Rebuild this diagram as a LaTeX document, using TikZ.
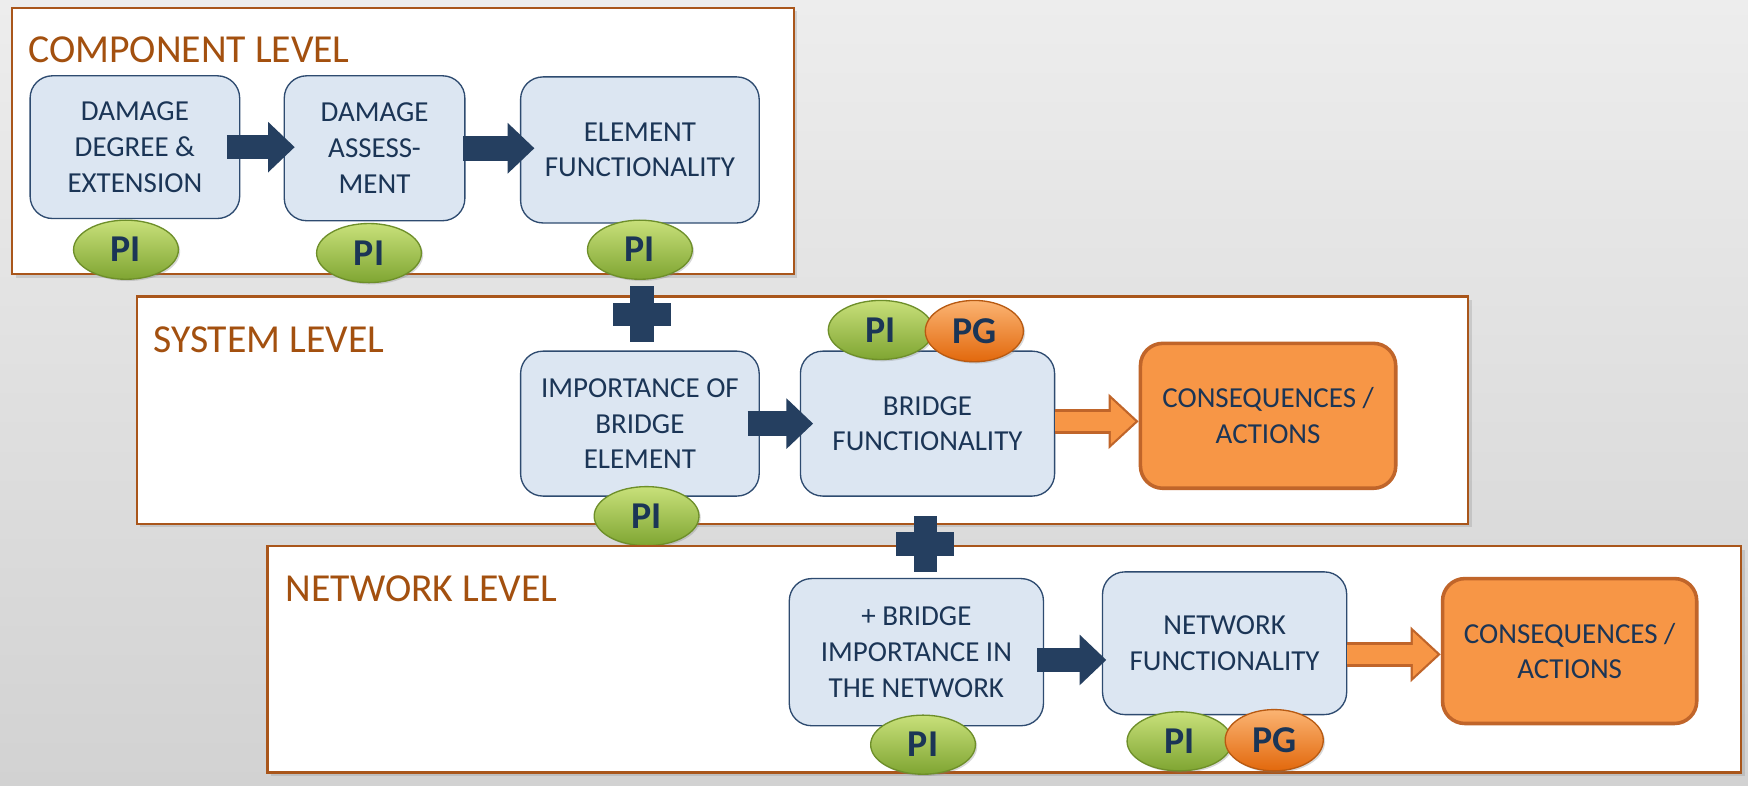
\documentclass[tikz,border=0pt]{standalone}
\usepackage{fontspec}
\setmainfont{Carlito}
\usepackage{tikz}
\usetikzlibrary{shapes.geometric,arrows.meta,shadows}

\definecolor{bgtop}{HTML}{EDEDED}
\definecolor{bgbot}{HTML}{D2D2D2}
\definecolor{framebrown}{HTML}{A9561B}
\definecolor{titlebrown}{HTML}{A3500F}
\definecolor{boxblue}{HTML}{DCE6F2}
\definecolor{boxline}{HTML}{2E4B70}
\definecolor{textnavy}{HTML}{1B3556}
\definecolor{arrownavy}{HTML}{253F60}
\definecolor{outorange}{HTML}{F79646}
\definecolor{outline}{HTML}{C0652A}
\definecolor{pitop}{HTML}{C8E07A}
\definecolor{pibot}{HTML}{7FA532}
\definecolor{piline}{HTML}{6E8F2A}
\definecolor{pgtop}{HTML}{FBB473}
\definecolor{pgbot}{HTML}{E2680C}
\definecolor{pgline}{HTML}{B85A12}

\begin{document}
\begin{tikzpicture}[x=0.5pt,y=-0.5pt,
  levelframe/.style={draw=framebrown, line width=1pt, fill=white,
    drop shadow={shadow xshift=1.5pt, shadow yshift=-1.5pt, opacity=0.25}},
  leveltitle/.style={anchor=base west, inner sep=0pt, text=titlebrown,
    font=\fontsize{17.8}{20}\selectfont},
  stepbox/.style={draw=boxline, fill=boxblue, line width=0.6pt,
    rounded corners=10pt, align=center, inner sep=0pt, text=textnavy,
    font=\fontsize{13}{16}\selectfont},
  outbox/.style={stepbox, draw=outline, fill=outorange, line width=1.6pt},
  badge/.style={ellipse, minimum width=47pt, minimum height=26.5pt, inner sep=0pt,
    line width=0.6pt, text=textnavy, font=\bfseries\fontsize{17}{17}\selectfont,
    drop shadow={shadow xshift=0.8pt, shadow yshift=-0.8pt, opacity=0.3}},
  pibadge/.style={badge, draw=piline, top color=pitop, bottom color=pibot},
  pgbadge/.style={badge, minimum width=44pt, minimum height=27.5pt,
    draw=pgline, top color=pgtop, bottom color=pgbot},
  flowarrow/.style={draw=arrownavy, line width=11pt,
    -{Triangle[length=12pt,width=22pt]}},
  outarrow/.style={draw=outline, line width=11pt,
    -{Triangle[length=13.5pt,width=24pt]}},
  outarrowfill/.style={draw=outorange, line width=8.6pt,
    -{Triangle[length=11pt,width=19.6pt]}, shorten >=1.5pt},
  plusmark/.pic={
    \fill[arrownavy] (-5.25pt,-12.5pt) rectangle (5.25pt,12.5pt);
    \fill[arrownavy] (-13pt,-5.25pt) rectangle (13pt,5.25pt);}]

  \useasboundingbox (0,0) rectangle (1568,705);
  \fill[top color=bgtop, bottom color=bgbot] (0,0) rectangle (1568,705);

  % component level
  \draw[levelframe] (11,7) rectangle (712,246);
  \node[leveltitle] (comptitle) at (25,56) {COMPONENT LEVEL};
  \node[stepbox, minimum width=94pt, minimum height=64pt] (a1) at (121,132)
    {DAMAGE\\DEGREE \&\\EXTENSION};
  \node[stepbox, minimum width=81pt, minimum height=65pt] (a2) at (336,133)
    {DAMAGE\\ASSESS-\\MENT};
  \node[stepbox, minimum width=107pt, minimum height=65.5pt] (a3) at (574,134.5)
    {ELEMENT\\FUNCTIONALITY};
  \draw[flowarrow, shorten <=-6pt, shorten >=-5pt] (a1.east) -- (a1.east -| a2.west);
  \draw[flowarrow, shorten <=-1pt, shorten >=-6.5pt] (a2.east) -- (a2.east -| a3.west);
  \node[pibadge] (a1pi) at (113,224) {PI};
  \node[pibadge] (a2pi) at (331,227) {PI};
  \node[pibadge] (a3pi) at (574,224) {PI};

  % system level
  \draw[levelframe] (123,266) rectangle (1317,470);
  \node[leveltitle] (systitle) at (137,316) {SYSTEM LEVEL};
  \pic at (576,282) {plusmark};
  \node[stepbox, minimum width=107pt, minimum height=65pt] (b1) at (574,380)
    {IMPORTANCE OF\\BRIDGE\\ELEMENT};
  \node[stepbox, minimum width=114pt, minimum height=65pt] (b2) at (832,380)
    {BRIDGE\\FUNCTIONALITY};
  \node[outbox, minimum width=114.5pt, minimum height=65pt] (b3) at (1137.5,373)
    {CONSEQUENCES /\\ACTIONS};
  \draw[flowarrow, shorten <=-5.5pt, shorten >=-6pt] (b1.east) -- (b1.east -| b2.west);
  \draw[outarrow] ([yshift=1pt]b2.east) -- ([yshift=1pt]b2.east -| b3.west);
  \draw[outarrowfill] ([yshift=1pt]b2.east) -- ([yshift=1pt]b2.east -| b3.west);
  \node[pibadge] (b1pi) at (580,463) {PI};
  \node[pibadge] (b2pi) at (790,296) {PI};
  \node[pgbadge] (b2pg) at (874,297) {PG};

  % network level
  \draw[levelframe] (240,490) rectangle (1562,693);
  \node[leveltitle] (nettitle) at (256,540) {NETWORK LEVEL};
  \pic at (830,488) {plusmark};
  \node[stepbox, minimum width=114pt, minimum height=66pt] (c1) at (822,585)
    {+ BRIDGE\\IMPORTANCE IN\\THE NETWORK};
  \node[stepbox, minimum width=109.5pt, minimum height=64pt] (c2) at (1098.5,577)
    {NETWORK\\FUNCTIONALITY};
  \node[outbox, minimum width=114pt, minimum height=65pt] (c3) at (1408,584)
    {CONSEQUENCES /\\ACTIONS};
  \draw[flowarrow, shorten <=-3pt, shorten >=-2pt]
    ([yshift=-3.5pt]c1.east) -- ([yshift=-3.5pt]c1.east -| c2.west);
  \draw[outarrow] ([yshift=-5pt]c2.east) -- ([yshift=-5pt]c2.east -| c3.west);
  \draw[outarrowfill] ([yshift=-5pt]c2.east) -- ([yshift=-5pt]c2.east -| c3.west);
  \node[pibadge] (c1pi) at (828,668) {PI};
  \node[pibadge] (c2pi) at (1058,665) {PI};
  \node[pgbadge] (c2pg) at (1143,664) {PG};
\end{tikzpicture}
\end{document}
